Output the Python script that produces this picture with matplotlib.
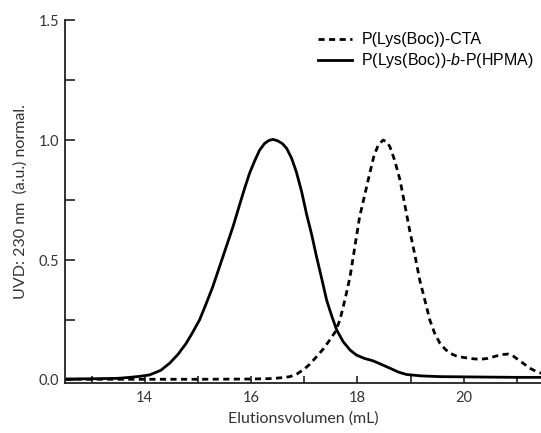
import matplotlib
matplotlib.use('Agg')
import matplotlib.pyplot as plt
from matplotlib.ticker import MultipleLocator

# P(Lys(Boc))-b-P(HPMA), solid line
vol_block = [12.5, 13.0, 13.5, 13.72, 13.9, 14.09, 14.3, 14.47, 14.63, 14.78, 14.9,
             15.03, 15.15, 15.28, 15.47, 15.66, 15.79, 15.88, 15.97, 16.07, 16.16,
             16.25, 16.33, 16.41, 16.5, 16.59, 16.67, 16.76, 16.85, 16.95, 17.04,
             17.14, 17.23, 17.33, 17.42, 17.52, 17.61, 17.73, 17.86, 17.98, 18.13,
             18.29, 18.45, 18.61, 18.77, 18.92, 19.2, 19.55, 20.0, 20.5, 21.0, 21.45]
uv_block = [0.004, 0.005, 0.007, 0.011, 0.015, 0.021, 0.04, 0.07, 0.108, 0.153, 0.198,
            0.25, 0.315, 0.389, 0.514, 0.639, 0.735, 0.80, 0.861, 0.915, 0.958,
            0.985, 0.998, 1.003, 0.997, 0.985, 0.965, 0.925, 0.868, 0.785, 0.694,
            0.605, 0.514, 0.42, 0.333, 0.264, 0.208, 0.16, 0.125, 0.104, 0.09,
            0.08, 0.065, 0.049, 0.033, 0.023, 0.017, 0.014, 0.013, 0.012, 0.011, 0.011]

# P(Lys(Boc))-CTA, dashed line
vol_cta = [12.5, 14.0, 15.0, 16.0, 16.4, 16.6, 16.73, 16.86, 16.98, 17.1, 17.23,
           17.36, 17.48, 17.58, 17.67, 17.77, 17.86, 17.95, 18.04, 18.14, 18.23,
           18.31, 18.39, 18.48, 18.55, 18.61, 18.7, 18.8, 18.89, 18.98, 19.08,
           19.17, 19.27, 19.36, 19.45, 19.55, 19.65, 19.74, 19.86, 19.99, 20.15,
           20.3, 20.45, 20.61, 20.72, 20.83, 20.94, 21.05, 21.15, 21.24, 21.34, 21.45]
uv_cta = [0.003, 0.003, 0.003, 0.004, 0.006, 0.01, 0.014, 0.025, 0.042, 0.065, 0.097,
          0.13, 0.167, 0.2, 0.25, 0.34, 0.43, 0.555, 0.68, 0.775, 0.861,
          0.935, 0.979, 1.0, 0.993, 0.972, 0.915, 0.833, 0.73, 0.625, 0.52,
          0.417, 0.33, 0.25, 0.195, 0.153, 0.128, 0.111, 0.1, 0.094, 0.089,
          0.086, 0.09, 0.1, 0.106, 0.108, 0.098, 0.08, 0.064, 0.049, 0.038, 0.028]

xticks = [14, 16, 18, 20]
yticks = [0.0, 0.5, 1.0, 1.5]
ytick_labels = ['0.0', '0.5', '1.0', '1.5']

plt.rcParams['mathtext.fontset'] = 'custom'
plt.rcParams['mathtext.it'] = 'Liberation Sans:italic'
plt.rcParams['mathtext.rm'] = 'Liberation Sans'

fig = plt.figure(figsize=(5.41, 4.33), dpi=100)
ax = fig.add_axes([0.120, 0.1155, 0.88, 0.838])

ax.plot(vol_cta, uv_cta, color='black', lw=2.0, linestyle=(0, (2.2, 1.6)),
        label='P(Lys(Boc))-CTA')
ax.plot(vol_block, uv_block, color='black', lw=2.0,
        label='P(Lys(Boc))-$\\mathit{b}$-P(HPMA)')

ax.set_xlim(12.5, 21.45)
ax.set_ylim(-0.0125, 1.5)
ax.set_xticks(xticks)
ax.set_yticks(yticks)
ax.set_yticklabels(ytick_labels)
ax.xaxis.set_minor_locator(MultipleLocator(1))
ax.yaxis.set_minor_locator(MultipleLocator(0.25))

for s in ['top', 'right']:
    ax.spines[s].set_visible(False)
for s in ['left', 'bottom']:
    ax.spines[s].set_linewidth(1.3)
    ax.spines[s].set_color('#222222')

ax.tick_params(axis='x', which='both', direction='in', length=5, width=1.2,
               colors='#222222', labelsize=10.5, pad=6)
ax.tick_params(axis='y', which='both', direction='in', length=7, width=1.2,
               colors='#222222', labelsize=10.5, pad=4)
for lbl in ax.get_xticklabels() + ax.get_yticklabels():
    lbl.set_fontfamily('Lato')
    lbl.set_color('#333333')

ax.set_xlabel('Elutionsvolumen (mL)', fontsize=11.5, family='Lato', color='#333333',
              labelpad=4)
ax.set_ylabel('UVD: 230 nm  (a.u.) normal.', fontsize=11.5, family='Lato',
              color='#333333', labelpad=8)

ax.legend(loc='upper left', bbox_to_anchor=(0.532, 0.967), frameon=False,
          prop={'family': 'Liberation Sans', 'size': 11.5}, handlelength=2.1,
          handletextpad=0.6, labelspacing=0.25, borderpad=0, borderaxespad=0)

fig.savefig('out.png', dpi=100)
